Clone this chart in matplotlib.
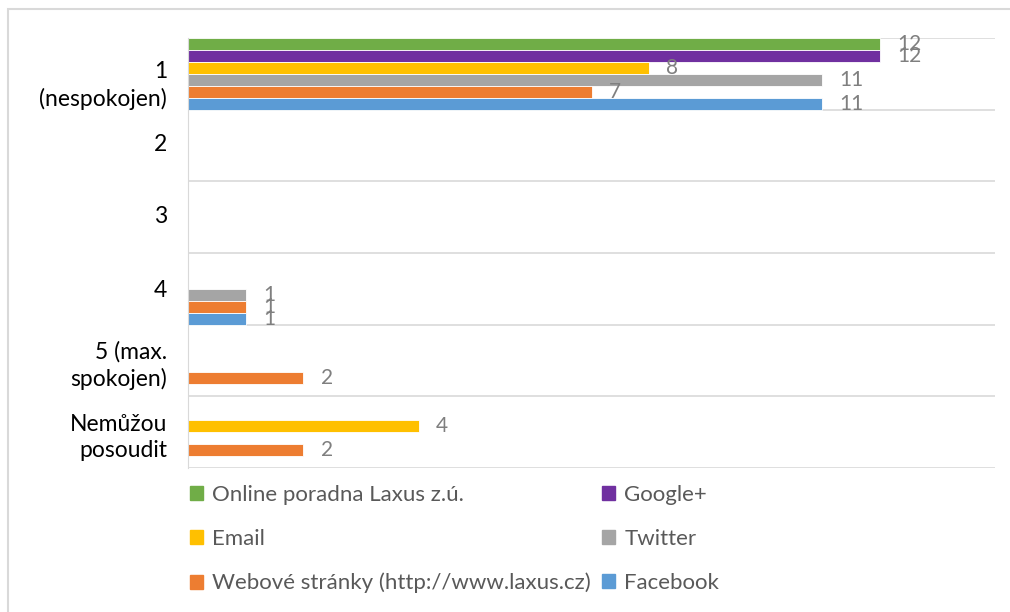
import numpy as np
import matplotlib.pyplot as plt
import matplotlib.transforms as mtransforms
from matplotlib.patches import Rectangle, Patch

## data
categories = ['1\n(nespokojen)', '2', '3', '4', '5 (max.\nspokojen)', 'Nemůžou\nposoudit']
series = ['Online poradna Laxus z.ú.', 'Google+', 'Email', 'Twitter',
          'Webové stránky (http://www.laxus.cz)', 'Facebook']
online = [12, 0, 0, 0, 0, 0]
google = [12, 0, 0, 0, 0, 0]
email = [8, 0, 0, 0, 0, 4]
twitter = [11, 0, 0, 1, 0, 0]
web = [7, 0, 0, 1, 2, 2]
facebook = [11, 0, 0, 1, 0, 0]
values = [online, google, email, twitter, web, facebook]
colors = ['#70AD47', '#7030A0', '#FFC000', '#A5A5A5', '#ED7D31', '#5B9BD5']

plt.rcParams['font.family'] = ['Lato', 'DejaVu Sans']

fig = plt.figure(figsize=(10.1, 6.12), dpi=100)
fig.patches.append(Rectangle((8/1010, -0.1), 1.2, (612-9)/612 + 0.1, transform=fig.transFigure,
                             fill=False, edgecolor='#D9D9D9', linewidth=1.5))
ax = fig.add_axes([188/1010, (612-468)/612, (995-188)/1010, (468-38)/612])

n = len(series)
h = 1.0 / n
y = np.arange(len(categories))
for i, (vals, col) in enumerate(zip(values, colors)):
    pos = y - 0.5 + (i + 0.5) * h
    ax.barh(pos, vals, height=h, color=col, edgecolor='white', linewidth=0.6, zorder=2)
    for p, v in zip(pos, vals):
        if v > 0:
            ax.text(v + 0.3, p, str(v), va='center', ha='left', color='#7F7F7F', fontsize=15)

ax.set_xlim(0, 14)
ax.set_ylim(len(categories) - 0.5, -0.5)
ax.set_yticks(y)
ax.set_yticklabels(categories, fontsize=16.5, ha='right', multialignment='right', linespacing=1.3)
ax.set_yticks(np.arange(len(categories) + 1) - 0.5, minor=True)
ax.tick_params(axis='y', which='both', length=0, pad=15)
ax.set_xticks([])
ax.grid(axis='y', which='minor', color='#D9D9D9', linewidth=1.2, zorder=0)
for s in ['top', 'right', 'bottom']:
    ax.spines[s].set_visible(False)
ax.spines['left'].set_color('#D9D9D9')

# nudge the tick labels a little like excel places them
shifts = [-7, 3, 3, 0, 0, -1]
for lbl, dy in zip(ax.get_yticklabels(), shifts):
    lbl.set_transform(lbl.get_transform() + mtransforms.ScaledTranslation(0, dy / 100, fig.dpi_scale_trans))

order = [0, 2, 4, 1, 3, 5]
handles = [Patch(color=colors[k]) for k in order]
labels = [series[k] for k in order]
fig.legend(handles, labels, ncol=2, loc='upper left', bbox_to_anchor=(181/1010, (612-476)/612),
           frameon=False, fontsize=16, labelcolor='#595959', handlelength=0.6, handleheight=0.6,
           handletextpad=0.4, columnspacing=0.5, labelspacing=1.08, borderaxespad=0)

fig.savefig('out.png', dpi=100)
